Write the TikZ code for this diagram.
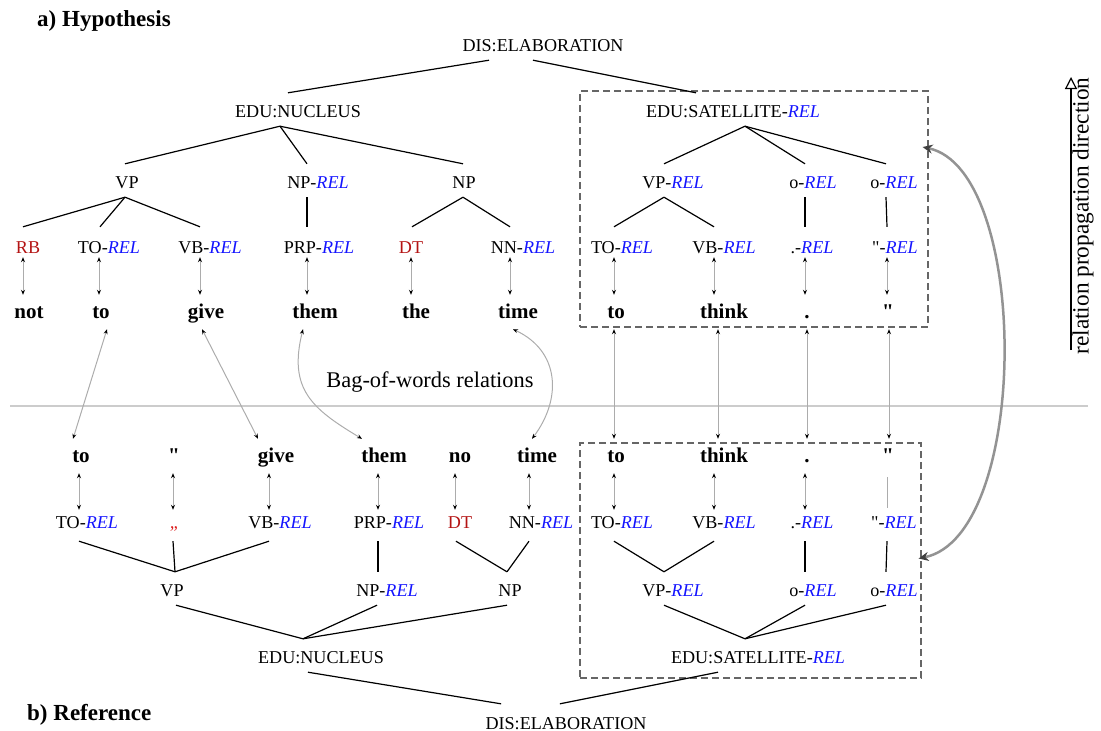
\documentclass[tikz,border=0pt]{standalone}
\usepackage{fontspec}
\setmainfont{Liberation Serif}[Ligatures=TeXOff]
\usepackage{tikz}
\usetikzlibrary{arrows.meta}
\definecolor{tagred}{RGB}{180,20,20}
\definecolor{quored}{RGB}{220,30,30}
\definecolor{relblue}{RGB}{20,20,255}
\newcommand{\rel}{\textcolor{relblue}{\textit{REL}}}
\tikzstyle{tag}=[anchor=base, inner sep=0pt, text height=24pt, text depth=9pt, font=\fontsize{18.1}{22}\selectfont]
\tikzstyle{leaf}=[tag, text height=26pt, text depth=4pt]
\tikzstyle{leafb}=[tag, text height=18pt, text depth=13pt]
\tikzstyle{word}=[anchor=base, inner sep=0pt, text height=23pt, text depth=11pt, font=\fontsize{21}{24}\selectfont\bfseries]
\tikzstyle{edge}=[draw=black, line width=1.2pt]
\tikzstyle{link}=[draw=gray!65, line width=1pt, {Stealth[black,length=5pt,width=4pt]}-{Stealth[black,length=5pt,width=4pt]}]
\tikzstyle{bigarrow}=[draw=gray!85, line width=2.5pt, {Stealth[black!75,length=10pt,width=9pt]}-{Stealth[black!75,length=10pt,width=9pt]}]
\tikzstyle{satbox}=[draw=black!60, dash pattern=on 7pt off 4pt, line width=1.2pt, inner sep=0pt]
\tikzstyle{title}=[anchor=base west, inner sep=0pt, font=\fontsize{23}{26}\selectfont\bfseries]

\begin{document}
\begin{tikzpicture}[x=1pt,y=-1pt]
\useasboundingbox (0,0) rectangle (1101,731);
\node[title] (hyp) at (37,26) {a) Hypothesis};
\node[title] (ref) at (27,720) {b) Reference};
\coordinate (sep-a) at (10,406);
\coordinate (sep-b) at (1088,406);
\draw[gray!40, line width=2pt] (sep-a) -- (sep-b);
\node[anchor=base, inner sep=0pt, font=\fontsize{22.4}{26}\selectfont] (bag) at (430,387) {Bag-of-words relations};
\node[satbox, minimum width=348pt, minimum height=236pt] (box1) at (754,209) {};
\node[satbox, minimum width=341pt, minimum height=235pt] (box2) at (750.5,560.5) {};

% hypothesis
\node[tag] (hdis) at (543,51) {DIS:ELABORATION};
\node[tag] (hnuc) at (298,117) {EDU:NUCLEUS};
\node[tag] (hsat) at (733,117) {EDU:SATELLITE-\rel};
\node[tag] (hvp) at (127,188) {VP};
\node[tag] (hnpr) at (318,188) {NP-\rel};
\node[tag] (hnp) at (464,188) {NP};
\node[tag] (hvpr) at (673,188) {VP-\rel};
\node[tag] (hoa) at (813,188) {o-\rel};
\node[tag] (hob) at (894,188) {o-\rel};
\node[leaf] (hrb) at (28,253) {\textcolor{tagred}{RB}};
\node[leaf] (hto) at (109,253) {TO-\rel};
\node[leaf] (hvb) at (210,253) {VB-\rel};
\node[leaf] (hprp) at (319,253) {PRP-\rel};
\node[leaf] (hdt) at (411,253) {\textcolor{tagred}{DT}};
\node[leaf] (hnn) at (523,253) {NN-\rel};
\node[leaf] (hto2) at (622,253) {TO-\rel};
\node[leaf] (hvb2) at (724,253) {VB-\rel};
\node[leaf] (hdot) at (812,253) {.-\rel};
\node[leaf] (hquo) at (895,253) {"-\rel};
\node[word] (hnot) at (29,318) {not};
\node[word] (hwto) at (101,318) {to};
\node[word] (hgive) at (206,318) {give};
\node[word] (hthem) at (315,318) {them};
\node[word] (hthe) at (416,318) {the};
\node[word] (htime) at (518,318) {time};
\node[word] (hwto2) at (616,318) {to};
\node[word] (hthink) at (724,318) {think};
\node[word] (hwdot) at (807,318) {.};
\node[word] (hwquo) at (888,318) {"};

\draw[edge] ([xshift=-54]hdis.south) -- ([xshift=-10]hnuc.north);
\draw[edge] ([xshift=-10]hdis.south) -- ([xshift=-37]hsat.north);
\draw[edge] ([xshift=-18]hnuc.south) -- ([xshift=-2]hvp.north);
\draw[edge] ([xshift=-18]hnuc.south) -- ([xshift=-11]hnpr.north);
\draw[edge] ([xshift=-18]hnuc.south) -- ([xshift=-1]hnp.north);
\draw[edge] ([xshift=-2]hvp.south) -- ([xshift=-5]hrb.north);
\draw[edge] ([xshift=-2]hvp.south) -- ([xshift=-9]hto.north);
\draw[edge] ([xshift=-2]hvp.south) -- ([xshift=-10]hvb.north);
\draw[edge] ([xshift=-11]hnpr.south) -- ([xshift=-12]hprp.north);
\draw[edge] ([xshift=-1]hnp.south) -- ([xshift=1]hdt.north);
\draw[edge] ([xshift=-1]hnp.south) -- ([xshift=-13]hnn.north);
\draw[edge] ([xshift=12]hsat.south) -- ([xshift=-9]hvpr.north);
\draw[edge] ([xshift=12]hsat.south) -- ([xshift=-8]hoa.north);
\draw[edge] ([xshift=12]hsat.south) -- ([xshift=-8]hob.north);
\draw[edge] ([xshift=-9]hvpr.south) -- ([xshift=-8]hto2.north);
\draw[edge] ([xshift=-9]hvpr.south) -- ([xshift=-10]hvb2.north);
\draw[edge] ([xshift=-8]hoa.south) -- ([xshift=-7]hdot.north);
\draw[edge] ([xshift=-8]hob.south) -- ([xshift=-8]hquo.north);

\draw[link] ([xshift=-5]hrb.south) -- ([xshift=-6]hnot.north);
\draw[link] ([xshift=-10]hto.south) -- ([xshift=-2]hwto.north);
\draw[link] ([xshift=-10]hvb.south) -- ([xshift=-6]hgive.north);
\draw[link] ([xshift=-12]hprp.south) -- ([xshift=-8]hthem.north);
\draw[link] (hdt.south) -- ([xshift=-5]hthe.north);
\draw[link] ([xshift=-13]hnn.south) -- ([xshift=-8]htime.north);
\draw[link] ([xshift=-8]hto2.south) -- ([xshift=-2]hwto2.north);
\draw[link] ([xshift=-10]hvb2.south) -- ([xshift=-10]hthink.north);
\draw[link] ([xshift=-7]hdot.south) -- ([xshift=-2]hwdot.north);
\draw[link] ([xshift=-8]hquo.south) -- ([xshift=-1]hwquo.north);

% reference
\node[word] (rwto) at (81,462) {to};
\node[word] (rwcc) at (174,462) {"};
\node[word] (rgive) at (276,462) {give};
\node[word] (rthem) at (384,462) {them};
\node[word] (rno) at (460,462) {no};
\node[word] (rtime) at (537,462) {time};
\node[word] (rwto2) at (616,462) {to};
\node[word] (rthink) at (724,462) {think};
\node[word] (rwdot) at (807,462) {.};
\node[word] (rwquo) at (888,462) {"};
\node[leafb] (rto) at (87,528) {TO-\rel};
\node[leafb] (rcc) at (175,528) {\textcolor{quored}{\textit{„}}};
\node[leafb] (rvb) at (280,528) {VB-\rel};
\node[leafb] (rprp) at (389,528) {PRP-\rel};
\node[leafb] (rdt) at (460,528) {\textcolor{tagred}{DT}};
\node[leafb] (rnn) at (541,528) {NN-\rel};
\node[leafb] (rto2) at (622,528) {TO-\rel};
\node[leafb] (rvb2) at (724,528) {VB-\rel};
\node[leafb] (rdot) at (812,528) {.-\rel};
\node[leafb] (rquo) at (894,528) {"-\rel};
\node[tag] (rvp) at (172,596) {VP};
\node[tag] (rnpr) at (387,596) {NP-\rel};
\node[tag] (rnp) at (510,596) {NP};
\node[tag] (rvpr) at (673,596) {VP-\rel};
\node[tag] (roa) at (813,596) {o-\rel};
\node[tag] (rob) at (894,596) {o-\rel};
\node[tag] (rnuc) at (321,663) {EDU:NUCLEUS};
\node[tag] (rsat) at (758,663) {EDU:SATELLITE-\rel};
\node[tag] (rdis) at (566,729) {DIS:ELABORATION};

\draw[link] ([xshift=-2]rwto.south) -- ([xshift=-8]rto.north);
\draw[link] ([xshift=-1]rwcc.south) -- ([xshift=-2]rcc.north);
\draw[link] ([xshift=-7]rgive.south) -- ([xshift=-11]rvb.north);
\draw[link] ([xshift=-6]rthem.south) -- ([xshift=-11]rprp.north);
\draw[link] ([xshift=-5]rno.south) -- ([xshift=-5]rdt.north);
\draw[link] ([xshift=-8]rtime.south) -- ([xshift=-12]rnn.north);
\draw[link] ([xshift=-2]rwto2.south) -- ([xshift=-8]rto2.north);
\draw[link] ([xshift=-10]rthink.south) -- ([xshift=-10]rvb2.north);
\draw[link] ([xshift=-2]rwdot.south) -- ([xshift=-7]rdot.north);
\draw[draw=gray!65, line width=1pt, shorten <=4pt, shorten >=2pt] ([xshift=-1]rwquo.south) -- ([xshift=-7]rquo.north);

\draw[edge] ([xshift=-8]rto.south) -- ([xshift=3]rvp.north);
\draw[edge] ([xshift=-2]rcc.south) -- ([xshift=3]rvp.north);
\draw[edge] ([xshift=-11]rvb.south) -- ([xshift=3]rvp.north);
\draw[edge] ([xshift=-11]rprp.south) -- ([xshift=-9]rnpr.north);
\draw[edge] ([xshift=-4]rdt.south) -- ([xshift=-3]rnp.north);
\draw[edge] ([xshift=-12]rnn.south) -- ([xshift=-3]rnp.north);
\draw[edge] ([xshift=4]rvp.south) -- ([xshift=-18]rnuc.north);
\draw[edge] ([xshift=-10]rnpr.south) -- ([xshift=-18]rnuc.north);
\draw[edge] ([xshift=-3]rnp.south) -- ([xshift=-18]rnuc.north);
\draw[edge, shorten >=6pt] ([xshift=-13]rnuc.south) -- ([xshift=-59]rdis.north);
\draw[edge] ([xshift=-8]rto2.south) -- ([xshift=-9]rvpr.north);
\draw[edge] ([xshift=-10]rvb2.south) -- ([xshift=-9]rvpr.north);
\draw[edge] ([xshift=-7]rdot.south) -- ([xshift=-8]roa.north);
\draw[edge] ([xshift=-7]rquo.south) -- ([xshift=-8]rob.north);
\draw[edge] ([xshift=-9]rvpr.south) -- ([xshift=-13]rsat.north);
\draw[edge] ([xshift=-8]roa.south) -- ([xshift=-13]rsat.north);
\draw[edge] ([xshift=-8]rob.south) -- ([xshift=-13]rsat.north);
\draw[edge, shorten >=5pt] ([xshift=-40]rsat.south) -- ([xshift=-11]rdis.north);

% bag-of-words links
\draw[link] ([xshift=6]hwto.south) -- ([xshift=-8]rwto.north);
\draw[link] ([xshift=-4]hgive.south) -- ([xshift=-18]rgive.north);
\draw[link] ([xshift=-12]hthem.south) .. controls +(-15,60) and +(-50,-30) .. ([xshift=-22]rthem.north);
\draw[link] ([xshift=-5]htime.south) .. controls +(47,22) and +(30,-40) .. ([xshift=-5]rtime.north);
\draw[link] ([xshift=-2]hwto2.south) -- ([xshift=-2]rwto2.north);
\draw[link] ([xshift=-6]hthink.south) -- ([xshift=-6]rthink.north);
\draw[link] (hwdot.south) -- (rwdot.north);
\draw[link] ([xshift=1]hwquo.south) -- ([xshift=1]rwquo.north);

\draw[bigarrow] ([xshift=-6,yshift=62]box1.east) .. controls +(108,23) and +(112,-23) .. ([xshift=-3,yshift=2]box2.east);

\coordinate (prop-a) at (1071,350);
\coordinate (prop-b) at (1071,77);
\draw[line width=1.2pt, -{Triangle[open,length=12pt,width=12pt]}] (prop-a) -- (prop-b);
\node[rotate=90, inner sep=0pt, font=\fontsize{23.3}{26}\selectfont] (prop) at (1083,216) {relation propagation direction};
\end{tikzpicture}
\end{document}
